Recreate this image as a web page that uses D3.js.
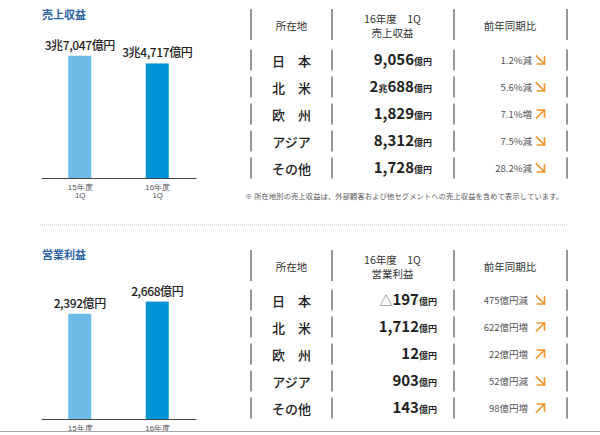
<!DOCTYPE html>
<html><head><meta charset="utf-8">
<script src="https://cdn.jsdelivr.net/npm/d3@7"></script>
<style>
html,body{margin:0;padding:0;background:#fff;}
svg{display:block;font-family:"Noto Sans CJK JP","Noto Sans",sans-serif;}
</style></head>
<body>
<svg id="chart" width="600" height="435"></svg>
<script>
// ---- data ----
const periods = ["15年度", "16年度"];
const periodSub = "1Q";
const salesTotals = [37047, 34717];          // 億円
const profitTotals = [2392, 2668];           // 億円
const regions = ["日　本", "北　米", "欧　州", "アジア", "その他"];
const salesByRegion = [9056, 20688, 1829, 8312, 1728];     // 億円
const salesChangePct = [-1.2, -5.6, 7.1, -7.5, -28.2];     // %
const profitByRegion = [-197, 1712, 12, 903, 143];         // 億円
const profitChange = [-475, 622, 22, -52, 98];             // 億円
const headerCols = ["所在地", "16年度　1Q", "前年同期比"];
const salesTitle = "売上収益";
const profitTitle = "営業利益";
const note = "※ 所在地別の売上収益は、外部顧客および他セグメントへの売上収益を含めて表示しています。";

const svg = d3.select("#chart");
const C = {title:"#2b63a3", bar1:"#6dbbe9", bar2:"#0093d8", text:"#222", grey:"#555", line:"#6a6a6a", orange:"#f0952c"};

function totalLabel(v){
  if (v >= 10000) return Math.floor(v/10000) + "兆" + d3.format(",")(v % 10000) + "億円";
  return d3.format(",")(v) + "億円";
}
function valueParts(v){
  const parts = [];
  let a = Math.abs(v);
  if (v < 0) parts.push({t:"△", k:"sym"});
  if (a >= 10000){ parts.push({t:String(Math.floor(a/10000)), k:"big"}); parts.push({t:"兆", k:"small"}); a = a % 10000; }
  parts.push({t:d3.format(",")(a), k:"big"});
  parts.push({t:"億円", k:"small"});
  return parts;
}

function barChart(cfg){
  const g = svg.append("g");
  g.append("text").attr("x", 42).attr("y", cfg.titleY).attr("font-size", 11).attr("font-weight", "bold")
    .attr("fill", C.title).text(cfg.title);
  const x = d3.scalePoint().domain(periods).range([41, 196]).padding(0.5);
  const y = d3.scaleLinear().domain([0, cfg.max]).range([cfg.base, cfg.base - 132]);
  const bw = 23;
  g.selectAll("rect.bar").data(cfg.values).join("rect")
    .attr("x", (d,i) => x(periods[i]) - bw/2).attr("width", bw)
    .attr("y", d => y(d)).attr("height", d => cfg.base - y(d))
    .attr("fill", (d,i) => i === 0 ? C.bar1 : C.bar2);
  g.selectAll("text.val").data(cfg.values).join("text")
    .attr("x", (d,i) => x(periods[i])).attr("y", d => y(d) - 6)
    .attr("text-anchor", "middle").attr("font-size", 12).attr("font-weight", 500)
    .attr("letter-spacing", -0.4).attr("fill", C.text).text(d => totalLabel(d));
  const axis = d3.axisBottom(x).tickSize(0).tickFormat(() => "");
  const ag = g.append("g").attr("transform", `translate(0,${cfg.base})`).call(axis);
  ag.select(".domain").attr("stroke", "#444").attr("stroke-width", 1);
  ag.selectAll(".tick").each(function(d){
    const t = d3.select(this).append("text").attr("fill", "#555").attr("font-size", 8)
      .attr("text-anchor", "middle");
    t.append("tspan").attr("x", 0).attr("y", 11.5).text(d);
    if (cfg.showSub) t.append("tspan").attr("x", 0).attr("y", 20).text(periodSub);
  });
}

function arrow(g, cx, cy, up){
  const s = 8, x0 = cx - s/2, y0 = cy - s/2;
  const p = d3.path();
  if (up){
    p.moveTo(x0, y0 + s); p.lineTo(x0 + s, y0);
    p.moveTo(x0 + 1, y0); p.lineTo(x0 + s, y0); p.lineTo(x0 + s, y0 + s - 1);
  } else {
    p.moveTo(x0, y0); p.lineTo(x0 + s, y0 + s);
    p.moveTo(x0 + 1, y0 + s); p.lineTo(x0 + s, y0 + s); p.lineTo(x0 + s, y0 + 1);
  }
  g.append("path").attr("d", p.toString()).attr("fill", "none").attr("stroke", C.orange)
    .attr("stroke-width", 1.7).attr("stroke-linecap", "square");
}

function table(cfg){
  const g = svg.append("g");
  const colX = [251, 332, 454, 567];
  const row = d3.scaleBand().domain(regions).range([cfg.rowTop, cfg.rowTop + 27*regions.length]);
  const segs = [[cfg.headY - 16, cfg.headY + 15]].concat(regions.map(r => [row(r) + 3, row(r) + 24]));
  segs.forEach(s => colX.forEach(cx => {
    g.append("line").attr("x1", cx).attr("x2", cx).attr("y1", s[0]).attr("y2", s[1])
      .attr("stroke", C.line).attr("stroke-width", 1.4);
  }));
  const hfs = 10.5;
  g.append("text").attr("x", 291.5).attr("y", cfg.headY).attr("dominant-baseline", "central")
    .attr("text-anchor", "middle").attr("font-size", hfs).attr("fill", "#333").text(headerCols[0]);
  g.append("text").attr("x", 392.5).attr("y", cfg.headY - 7).attr("dominant-baseline", "central")
    .attr("text-anchor", "middle").attr("font-size", hfs).attr("fill", "#333").text(headerCols[1]);
  g.append("text").attr("x", 392.5).attr("y", cfg.headY + 7).attr("dominant-baseline", "central")
    .attr("text-anchor", "middle").attr("font-size", hfs).attr("fill", "#333").text(cfg.metric);
  g.append("text").attr("x", 510).attr("y", cfg.headY).attr("dominant-baseline", "central")
    .attr("text-anchor", "middle").attr("font-size", hfs).attr("fill", "#333").text(headerCols[2]);
  regions.forEach((r, i) => {
    const cy = row(r) + row.bandwidth()/2;
    g.append("text").attr("x", 291.5).attr("y", cy).attr("dominant-baseline", "central")
      .attr("text-anchor", "middle").attr("font-size", 13).attr("font-weight", 500)
      .attr("fill", C.text).text(r);
    const t = g.append("text").attr("x", cfg.valueRight).attr("y", cy + 5)
      .attr("text-anchor", "end").attr("fill", C.text);
    valueParts(cfg.values[i]).forEach(p => {
      const ts = t.append("tspan").text(p.t);
      if (p.k === "big") ts.attr("font-size", 15).attr("font-weight", "bold");
      else if (p.k === "small") ts.attr("font-size", 9).attr("font-weight", "bold");
      else ts.attr("font-size", 13).attr("fill", "#666");
    });
    const ch = cfg.change[i];
    g.append("text").attr("x", cfg.changeRight).attr("y", cy).attr("dominant-baseline", "central")
      .attr("text-anchor", "end").attr("font-size", 9.5).attr("fill", "#555").text(cfg.fmtChange(ch));
    arrow(g, 540.5, cy, ch > 0);
  });
}

barChart({title: salesTitle, titleY: 19, values: salesTotals, max: 40000, base: 178, showSub: true});
barChart({title: profitTitle, titleY: 259, values: profitTotals, max: 3000, base: 419, showSub: false});

table({headY: 25, rowTop: 46.5, metric: salesTitle, values: salesByRegion, change: salesChangePct,
  valueRight: 432, changeRight: 532,
  fmtChange: v => d3.format(".1f")(Math.abs(v)) + "%" + (v < 0 ? "減" : "増")});
table({headY: 266, rowTop: 286.5, metric: profitTitle, values: profitByRegion, change: profitChange,
  valueRight: 437, changeRight: 528,
  fmtChange: v => Math.abs(v) + "億円" + (v < 0 ? "減" : "増")});

svg.append("text").attr("x", 245).attr("y", 199).attr("font-size", 7.2).attr("fill", "#555")
  .attr("textLength", 318).attr("lengthAdjust", "spacing").text(note);
svg.append("line").attr("x1", 40).attr("x2", 568).attr("y1", 225).attr("y2", 225)
  .attr("stroke", "#bbb").attr("stroke-width", 1).attr("stroke-dasharray", "1,1");
svg.append("line").attr("x1", 0).attr("x2", 600).attr("y1", 431.5).attr("y2", 431.5)
  .attr("stroke", "#a8a8a8").attr("stroke-width", 1);
</script>
</body></html>
